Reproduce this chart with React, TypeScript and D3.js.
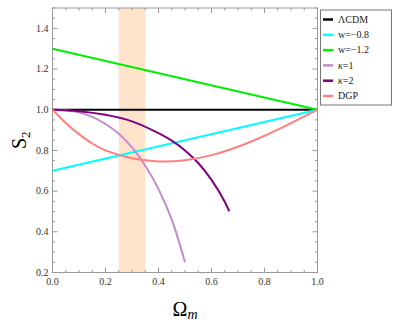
import React from 'react';
import * as d3 from 'd3';

// values
const lcdm: [number, number][] = [[0, 1], [1, 1]];
const wMinus08: [number, number][] = [[0, 0.7], [1, 1]];
const wMinus12: [number, number][] = [[0, 1.3], [1, 1]];
const kappa1: [number, number][] = [
  [0, 1], [0.05, 0.997], [0.1, 0.987], [0.15, 0.965], [0.2, 0.93], [0.25, 0.882],
  [0.3, 0.815], [0.35, 0.725], [0.4, 0.61], [0.45, 0.46], [0.5, 0.25],
];
const kappa2: [number, number][] = [
  [0, 1], [0.1, 0.993], [0.2, 0.975], [0.3, 0.943], [0.4, 0.885], [0.45, 0.848],
  [0.5, 0.8], [0.55, 0.738], [0.6, 0.655], [0.65, 0.548], [0.667, 0.5],
];
const dgp: [number, number][] = [
  [0, 1], [0.05, 0.935], [0.1, 0.88], [0.15, 0.834], [0.2, 0.8], [0.3, 0.762],
  [0.4, 0.746], [0.5, 0.752], [0.6, 0.777], [0.7, 0.818], [0.8, 0.872], [0.9, 0.934], [1, 1],
];
const band = [0.25, 0.35];

const names = ['ΛCDM', 'w=−0.8', 'w=−1.2', 'κ=1', 'κ=2', 'DGP'];
const colors = ['#000000', '#00ffff', '#00ee00', '#c58bd0', '#800080', '#ff8080'];
const series = [lcdm, wMinus08, wMinus12, kappa1, kappa2, dgp];

const margin = { left: 52.5, right: 317.5, top: 8, bottom: 272.5 };
const font = 'Liberation Serif';

export default function App() {
  const x = d3.scaleLinear().domain([0, 1]).range([margin.left, margin.right]);
  const y = d3.scaleLinear().domain([0.2, 1.5]).range([margin.bottom, margin.top]);
  const line = d3.line<[number, number]>()
    .x(d => x(d[0]))
    .y(d => y(d[1]))
    .curve(d3.curveCatmullRom.alpha(0.5));

  const xMajor = x.ticks(5);
  const xMinor = d3.range(0, 1.0001, 0.05);
  const yMajor = d3.range(0.2, 1.5001, 0.2);
  const yMinor = d3.range(0.2, 1.5001, 0.05);
  const fmt = d3.format('.1f');
  const frame = '#999';

  return (
    <svg width={400} height={325} style={{ position: 'absolute', left: 0, top: 0, fontFamily: font }}>
      <rect x={x(band[0])} y={margin.top} width={x(band[1]) - x(band[0])} height={margin.bottom - margin.top} fill={'#ffe4cb'} />

      <g stroke={frame} strokeWidth={1}>
        {xMinor.map(t => {
          const major = xMajor.some(m => Math.abs(m - t) < 1e-6);
          const len = major ? 5 : 2.5;
          return (
            <g key={'x' + t}>
              <line x1={x(t)} x2={x(t)} y1={margin.bottom} y2={margin.bottom - len} />
              <line x1={x(t)} x2={x(t)} y1={margin.top} y2={margin.top + len} />
            </g>
          );
        })}
        {yMinor.map(t => {
          const major = yMajor.some(m => Math.abs(m - t) < 1e-6);
          const len = major ? 5 : 2.5;
          return (
            <g key={'y' + t}>
              <line x1={margin.left} x2={margin.left + len} y1={y(t)} y2={y(t)} />
              <line x1={margin.right} x2={margin.right - len} y1={y(t)} y2={y(t)} />
            </g>
          );
        })}
        <rect x={margin.left} y={margin.top} width={margin.right - margin.left} height={margin.bottom - margin.top} fill={'none'} />
      </g>

      <g fontSize={10} fill={'#333'} style={{ fontFamily: font }}>
        {xMajor.map(t => (
          <text key={'xl' + t} x={x(t)} y={284.5} textAnchor={'middle'}>{fmt(t)}</text>
        ))}
        {yMajor.map(t => (
          <text key={'yl' + t} x={margin.left - 4} y={y(t)} dy={'0.33em'} textAnchor={'end'}>{fmt(t)}</text>
        ))}
      </g>

      <g fill={'none'} strokeWidth={2}>
        {series.map((s, i) => (
          <path key={names[i]} d={line(s) || ''} stroke={colors[i]} />
        ))}
      </g>

      <text x={0} y={0} fontSize={20} style={{ fontFamily: font }} transform={`translate(26, ${(margin.top + margin.bottom) / 2}) rotate(-90)`} textAnchor={'middle'}>
        S<tspan fontSize={13} dy={4}>2</tspan>
      </text>
      <text x={(margin.left + margin.right) / 2} y={316} fontSize={20} style={{ fontFamily: font }} textAnchor={'middle'}>
        Ω<tspan fontSize={14} fontStyle={'italic'} dy={3}>m</tspan>
      </text>

      <g style={{ fontFamily: font }}>
        <rect x={320.5} y={10} width={71} height={95} fill={'#fff'} stroke={'#777'} strokeWidth={1} />
        {names.map((n, i) => {
          const ly = 19.5 + i * 15.3;
          return (
            <g key={'lg' + n}>
              <line x1={323} x2={333} y1={ly} y2={ly} stroke={colors[i]} strokeWidth={2.5} />
              <text x={338} y={ly} dy={'0.33em'} fontSize={10} fill={'#222'}>
                {n.startsWith('κ') ? <><tspan fontStyle={'italic'}>κ</tspan>{n.slice(1)}</> : n}
              </text>
            </g>
          );
        })}
      </g>
    </svg>
  );
}
